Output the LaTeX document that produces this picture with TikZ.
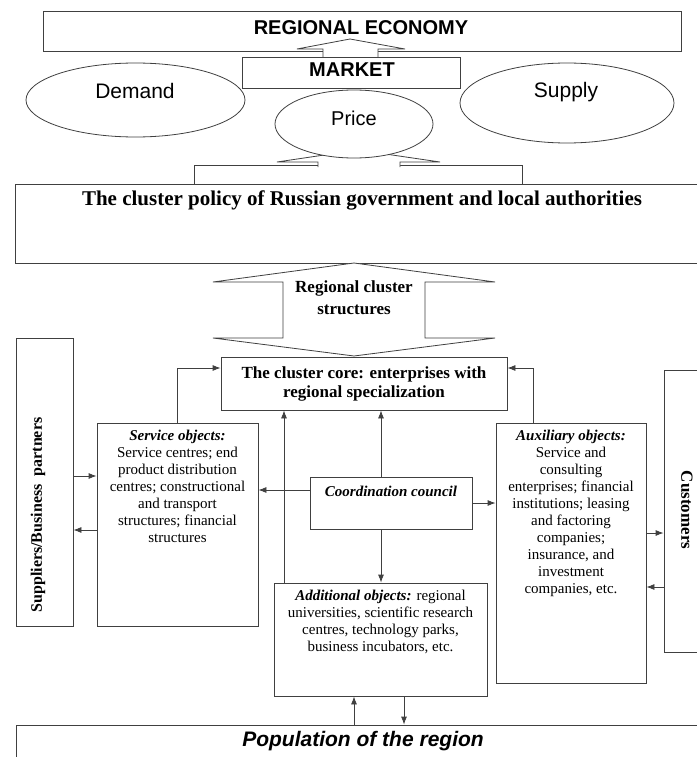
\documentclass[tikz,border=0pt]{standalone}
\usepackage{fontspec}
\setmainfont{Liberation Serif}
\newfontfamily\arial{Liberation Sans}
\usetikzlibrary{arrows.meta,shapes.geometric}
\definecolor{linegray}{HTML}{404040}
\tikzset{
  box/.style={draw=linegray, line width=0.8pt, fill=white, inner sep=0pt},
  oval/.style={ellipse, draw=linegray, line width=0.8pt, fill=white, inner sep=0pt},
  blockarrow/.style={draw=linegray, line width=0.8pt, fill=white, line join=miter},
  link/.style={draw=linegray, line width=0.8pt, -{Latex[length=8pt,width=6pt]}},
  txt/.style={align=center, inner sep=0pt, text=black},
  body/.style={txt, font=\fontsize{15}{17}\selectfont},
}
\begin{document}
\begin{tikzpicture}[x=1pt,y=-1pt]
\useasboundingbox (0,0) rectangle (696,757);
\fill[white] (0,0) rectangle (696,757);

\node[box, minimum width=638pt, minimum height=40pt] (econ) at (362,31) {};
\node[txt, font=\arial\bfseries\fontsize{20}{24}\selectfont] (econ-t) at (361,28) {REGIONAL ECONOMY};
\draw[blockarrow] (323,57) -- (323,49) -- (297,49) -- (350,39) -- (405,49) -- (378,49) -- (378,57);
\node[box, minimum width=218pt, minimum height=31pt] (market) at (351,72.5) {};
\node[txt, font=\arial\bfseries\fontsize{20}{24}\selectfont] (market-t) at (352,70) {MARKET};

\draw[box] (194,165) rectangle (522,184);
\draw[blockarrow] (318,167) -- (318,162) -- (277,162) -- (358,150) -- (440,162) -- (400,162) -- (400,167);
\node[oval, minimum width=219pt, minimum height=74pt] (demand) at (135.5,100) {};
\node[oval, minimum width=158pt, minimum height=68pt] (price) at (354,124) {};
\node[oval, minimum width=214pt, minimum height=80pt] (supply) at (567,103) {};
\node[txt, font=\arial\fontsize{21}{24}\selectfont] (demand-t) at (135,91) {Demand};
\node[txt, font=\arial\fontsize{20}{24}\selectfont] (price-t) at (354,118) {Price};
\node[txt, font=\arial\fontsize{21}{24}\selectfont] (supply-t) at (566,92) {Supply};

\node[box, minimum width=690pt, minimum height=79pt] (policy) at (360,223.5) {};
\node[txt, font=\bfseries\fontsize{21}{24}\selectfont] (policy-t) at (362,200) {The cluster policy of Russian government and local authorities};

\draw[blockarrow] (354,263) -- (495,282) -- (425,282) -- (425,338) -- (495,338) -- (354,356)
  -- (213,338) -- (283,338) -- (283,282) -- (213,282) -- cycle;
\node[txt, font=\bfseries\fontsize{17}{22}\selectfont] (rcs) at (354,298) {Regional cluster\\structures};

\node[box, minimum width=286pt, minimum height=53pt, align=center,
  font=\bfseries\fontsize{17}{19}\selectfont] (core) at (364,383.5) {The cluster core: enterprises with\\regional specialization};

\node[box, minimum width=57pt, minimum height=288pt] (sup) at (44.5,482) {};
\node[txt, rotate=90, font=\bfseries\fontsize{16}{18}\selectfont] (sup-t) at (38,515) {Suppliers/Business\ \ partners};

\node[box, minimum width=161pt, minimum height=203pt] (serv) at (177.5,524.5) {};
\node[body, anchor=north] (serv-t) at ([yshift=-7pt]serv.north) {\textbf{\textit{Service objects:}}\\Service centres; end\\product distribution\\centres; constructional\\and transport\\structures; financial\\structures};

\node[box, minimum width=162pt, minimum height=52pt] (coord) at (391,503) {};
\node[txt, font=\bfseries\itshape\fontsize{15}{17}\selectfont] (coord-t) at (391,491) {Coordination council};

\node[box, minimum width=150pt, minimum height=260pt] (aux) at (571,553) {};
\node[body, anchor=north] (aux-t) at ([yshift=-7pt]aux.north) {\textbf{\textit{Auxiliary objects:}}\\Service and\\consulting\\enterprises; financial\\institutions; leasing\\and factoring\\companies;\\insurance, and\\investment\\companies, etc.};

\node[box, minimum width=51pt, minimum height=282pt] (cust) at (689.5,511) {};
\node[txt, rotate=-90, font=\bfseries\fontsize{17}{19}\selectfont] (cust-t) at (687,510) {Customers};

\node[box, minimum width=213pt, minimum height=113pt] (addl) at (380.5,639.5) {};
\node[body, anchor=north] (addl-t) at ([yshift=-7pt]addl.north) {\textbf{\textit{Additional objects:}} regional\\universities, scientific research\\centres, technology parks,\\business incubators, etc.};

\node[box, minimum width=700pt, minimum height=50pt] (pop) at (366,750) {};
\node[txt, font=\arial\bfseries\itshape\fontsize{21}{24}\selectfont] (pop-t) at (363,741) {Population of the region};

\draw[link] (sup.east |- 0,476) -- (serv.west |- 0,476);
\draw[link] (serv.west |- 0,530) -- (sup.east |- 0,530);
\draw[link] (serv.north) |- (core.west |- 0,368);
\draw[link] (aux.north -| 533,0) |- (core.east |- 0,368);
\draw[link] (coord.west |- 0,490) -- (serv.east |- 0,490);
\draw[link] (coord.east |- 0,503) -- (aux.west |- 0,503);
\draw[link] (coord.north -| 381,0) -- (core.south -| 381,0);
\draw[link] (coord.south -| 381,0) -- (addl.north -| 381,0);
\draw[link] (addl.north -| 284,0) -- (core.south -| 284,0);
\draw[link] (aux.east |- 0,533) -- (cust.west |- 0,533);
\draw[link] (cust.west |- 0,587) -- (aux.east |- 0,587);
\draw[link] (pop.north -| 354,0) -- (addl.south -| 354,0);
\draw[link] (addl.south -| 404,0) -- (pop.north -| 404,0);
\end{tikzpicture}
\end{document}
